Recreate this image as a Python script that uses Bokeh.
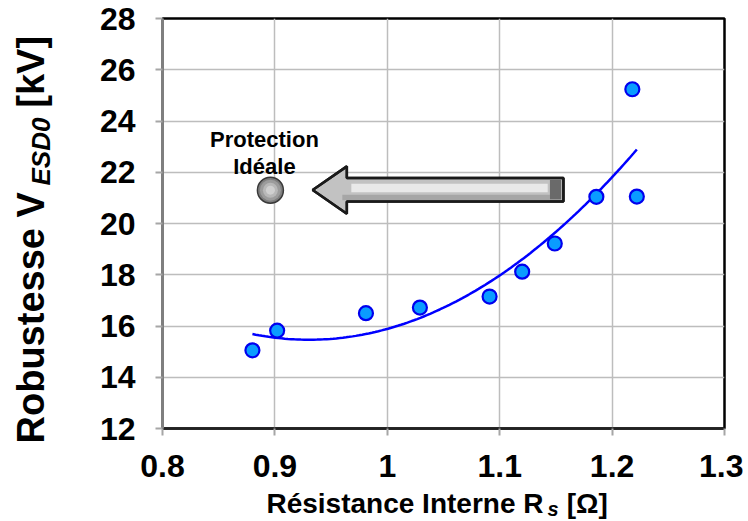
import numpy as np
from math import pi
from bokeh.plotting import figure
from bokeh.models import Range1d, FixedTicker, Label
from bokeh.core.properties import value
from bokeh.embed import file_html
from bokeh.resources import INLINE

# ---------------- data ----------------
rs = [0.880, 0.902, 0.981, 1.029, 1.091, 1.120, 1.149, 1.186, 1.218, 1.222]
vesd = [15.05, 15.82, 16.50, 16.72, 17.15, 18.12, 19.22, 21.04, 25.24, 21.05]

ideal_rs = [0.896]
ideal_v = [21.3]

x_ticks = [0.8, 0.9, 1.0, 1.1, 1.2, 1.3]
x_tick_labels = ["0.8", "0.9", "1", "1.1", "1.2", "1.3"]
y_ticks = [12, 14, 16, 18, 20, 22, 24, 26, 28]

# arrow outline (annotation shape)
arrow_x = [0.9336, 0.964, 0.964, 1.1567, 1.1567, 0.964, 0.964]
arrow_y = [21.31, 22.23, 21.78, 21.78, 20.86, 20.86, 20.38]

note_x = [0.8907, 0.8907]
note_y = [23.27, 22.24]
note_text = ["Protection", "Idéale"]

FONT = "Liberation Sans"
NB = "\u00a0"

# quadratic trendline (least squares on the measured points)
coef = np.polyfit(rs, vesd, 2)
trend_x = np.linspace(min(rs), max(rs), 120)
trend_y = np.polyval(coef, trend_x)

p = figure(width=743, height=520, output_backend="svg", toolbar_location=None,
           x_range=Range1d(0.8, 1.3), y_range=Range1d(12, 28),
           min_border_left=162, min_border_right=19, min_border_top=18,
           min_border_bottom=92)
p.background_fill_color = "white"
p.border_fill_color = "white"
p.outline_line_color = "black"
p.outline_line_width = 2.5

# axes
p.xaxis.ticker = FixedTicker(ticks=x_ticks)
p.yaxis.ticker = FixedTicker(ticks=y_ticks)
p.xaxis.major_label_overrides = {t: l for t, l in zip(x_ticks, x_tick_labels)}
for ax in (p.xaxis[0], p.yaxis[0]):
    ax.major_label_text_font = FONT
    ax.major_label_text_font_size = "32px"
    ax.major_label_text_font_style = "bold"
    ax.major_label_text_color = "black"
    ax.major_tick_in = 0
    ax.major_tick_out = 7
    ax.major_tick_line_color = "#a6a6a6"
    ax.major_tick_line_width = 2
    ax.minor_tick_line_color = None
    ax.axis_label = None
p.xaxis.major_label_standoff = 19
p.yaxis.major_label_standoff = 20
p.xaxis.axis_line_color = "#222222"
p.xaxis.axis_line_width = 2.5
p.yaxis.axis_line_color = "#7f7f7f"
p.yaxis.axis_line_width = 3

p.xgrid.ticker = FixedTicker(ticks=x_ticks)
p.ygrid.ticker = FixedTicker(ticks=y_ticks)
p.grid.grid_line_color = "#bdbdbd"
p.grid.grid_line_width = 1.5

# trendline and points
p.line(trend_x, trend_y, line_color="#0000ff", line_width=2.5)
p.scatter(rs, vesd, size=14, marker="circle", fill_color="#0a9cff",
          line_color="#0000ee", line_width=2.2)

# ideal protection point (shaded sphere)
p.scatter(ideal_rs, ideal_v, size=26, fill_color="#7e7e7e", line_color="#3a3a3a", line_width=1.5)
p.scatter(ideal_rs, ideal_v, size=21, fill_color="#9c9c9c", line_color=None)
p.scatter(ideal_rs, ideal_v, size=15, fill_color="#b8b8b8", line_color=None)
p.scatter(ideal_rs, ideal_v, size=9, fill_color="#d0d0d0", line_color=None)

# arrow (grey with light centre band and dark bevel at the tail)
p.patch(arrow_x, arrow_y, fill_color="#c2c2c2", line_color="#1a1a1a", line_width=2.5)
p.quad(left=[arrow_x[1] - 0.004], right=[arrow_x[3] - 0.012],
       bottom=[arrow_y[4] + 0.05], top=[21.12], fill_color="#a6a6a6", line_color=None)
p.quad(left=[arrow_x[1] + 0.004], right=[arrow_x[3] - 0.014],
       bottom=[21.22], top=[21.55], fill_color="#e9e9e9", line_color=None)
p.quad(left=[arrow_x[3] - 0.012], right=[arrow_x[3] - 0.002],
       bottom=[arrow_y[4] + 0.08], top=[arrow_y[3] - 0.08], fill_color="#6a6a6a", line_color=None)
p.patch(arrow_x, arrow_y, fill_color=None, line_color="#1a1a1a", line_width=2.5)

p.text(note_x, note_y, text=note_text, text_font=value(FONT), text_font_size="22px",
       text_font_style="bold", text_align="center", text_baseline="middle",
       text_color="black")

# axis titles (plain part with a gap, italic subscript part inserted in the gap),
# placed in side panels so they are not clipped to the frame
def lab(side, x, y, txt, size, style, angle=0.0):
    p.add_layout(Label(x=x, y=y, x_units="data", y_units="data", text=txt,
                       angle=angle, text_font=FONT, text_font_size=size,
                       text_font_style=style, text_align="left",
                       text_baseline="middle", text_color="black"), side)

lab("left", 0.6827, 11.415, "Robustesse V" + NB * 8 + "[kV]", "38px", "bold", pi / 2)
lab("left", 0.6923, 21.483, "ESD0", "26px", "bold italic", pi / 2)
lab("left", 1.1425, 8.874, "s", "20px", "bold italic")
lab("below", 0.8925, 9.061, "Résistance Interne R" + NB * 3 + "[Ω]", "28px", "bold")

open("out.html", "w").write(file_html(p, INLINE))
